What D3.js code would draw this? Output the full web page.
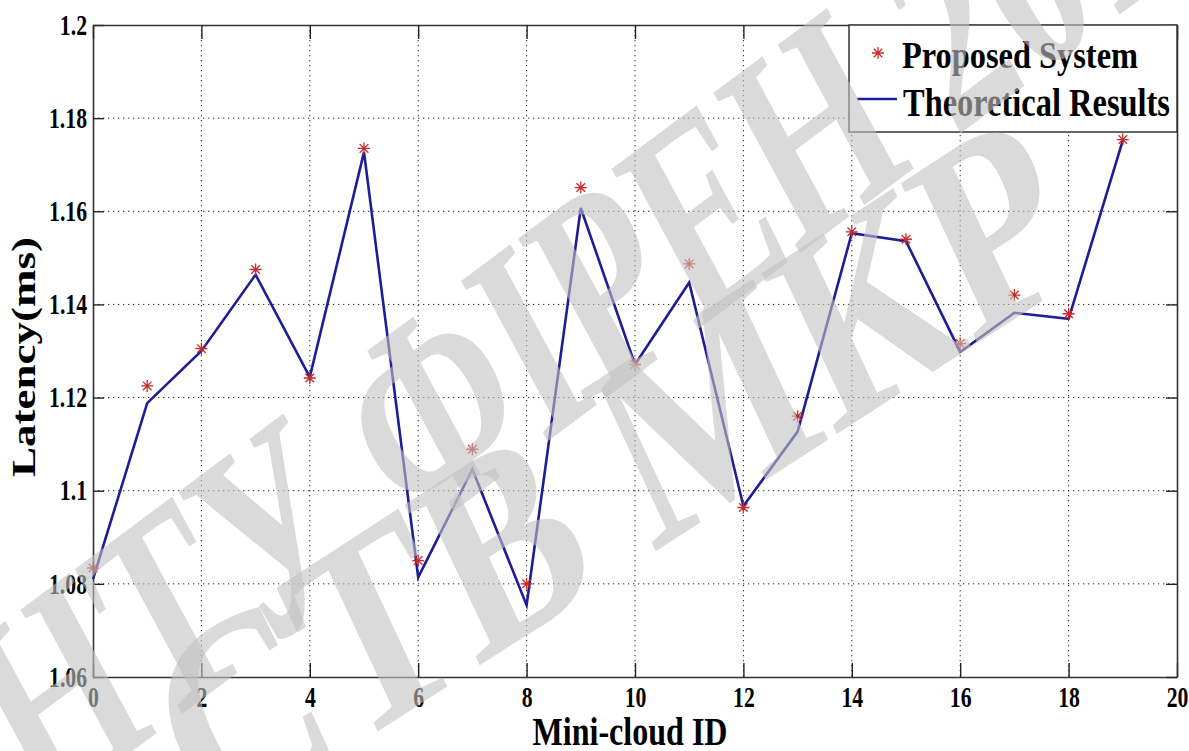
<!DOCTYPE html>
<html>
<head>
<meta charset="utf-8">
<script src="https://cdn.jsdelivr.net/npm/d3@7"></script>
<style>
  html, body { margin: 0; padding: 0; background: #fff; }
  svg { display: block; }
  text { font-family: "Liberation Serif", "Times New Roman", serif; font-weight: bold; }
  .tick text { transform-box: fill-box; transform-origin: 50% 50%; transform: scaleX(0.75); }
  .yax .tick text { transform-origin: 100% 50%; }
</style>
</head>
<body>
<div id="chart"></div>
<script>
// mini-cloud ids and latency values (ms)
const ids = [0, 1, 2, 3, 4, 5, 6, 7, 8, 9, 10, 11, 12, 13, 14, 15, 16, 17, 18, 19];
const proposed = [1.0834, 1.1225, 1.1305, 1.1475, 1.1242, 1.1735, 1.0850, 1.1089, 1.0800, 1.1651,
                  1.1271, 1.1487, 1.0964, 1.1160, 1.1556, 1.1540, 1.1316, 1.1420, 1.1380, 1.1754];
const theoretical = [1.0810, 1.1188, 1.1300, 1.1464, 1.1244, 1.1727, 1.0814, 1.1046, 1.0754, 1.1607,
                     1.1271, 1.1447, 1.0967, 1.1127, 1.1553, 1.1536, 1.1298, 1.1382, 1.1369, 1.1752];
const xTicks = [0, 2, 4, 6, 8, 10, 12, 14, 16, 18, 20];
const yTicks = [1.06, 1.08, 1.1, 1.12, 1.14, 1.16, 1.18, 1.2];
const seriesNames = ["Proposed System", "Theoretical Results"];

const W = 1189, H = 751;
const margin = {top: 25, right: 12, bottom: 74, left: 93};
const width = W - margin.left - margin.right;
const height = H - margin.top - margin.bottom;

const svg = d3.select("#chart").append("svg")
  .attr("width", W)
  .attr("height", H);

const g = svg.append("g")
  .attr("transform", "translate(" + margin.left + "," + margin.top + ")");

const x = d3.scaleLinear().domain([0, 20]).range([0, width]);
const y = d3.scaleLinear().domain([1.06, 1.2]).range([height, 0]);

// dotted grid
g.append("g")
  .selectAll("line")
  .data(xTicks.slice(1, -1))
  .enter().append("line")
    .attr("x1", d => x(d)).attr("x2", d => x(d))
    .attr("y1", 0).attr("y2", height)
    .attr("stroke", "#222").attr("stroke-width", 1)
    .attr("stroke-dasharray", "1.3,3.7");

g.append("g")
  .selectAll("line")
  .data(yTicks.slice(1, -1))
  .enter().append("line")
    .attr("x1", 0).attr("x2", width)
    .attr("y1", d => y(d)).attr("y2", d => y(d))
    .attr("stroke", "#222").attr("stroke-width", 1)
    .attr("stroke-dasharray", "1.3,3.7");

// theoretical curve
const line = d3.line()
  .x((d, i) => x(ids[i]))
  .y(d => y(d));

g.append("path")
  .datum(theoretical)
  .attr("fill", "none")
  .attr("stroke", "#1d1d96")
  .attr("stroke-width", 2.6)
  .attr("stroke-linejoin", "miter")
  .attr("d", line);

// asterisk markers
const star = "M-6,0H6M0,-6V6M-4.3,-4.3L4.3,4.3M-4.3,4.3L4.3,-4.3";
g.append("g")
  .selectAll("path")
  .data(proposed)
  .enter().append("path")
    .attr("transform", (d, i) => "translate(" + x(ids[i]) + "," + y(d) + ")")
    .attr("d", star)
    .attr("fill", "none")
    .attr("stroke", "#cc2a2a")
    .attr("stroke-width", 1.3);

// axes and box
const fmt = d => String(+d.toFixed(2));

g.append("g")
  .attr("transform", "translate(0," + height + ")")
  .call(d3.axisBottom(x).tickValues(xTicks).tickFormat(fmt).tickSizeInner(-14).tickSizeOuter(0).tickPadding(9));

g.append("g")
  .attr("class", "yax")
  .call(d3.axisLeft(y).tickValues(yTicks).tickFormat(fmt).tickSizeInner(-11).tickSizeOuter(0).tickPadding(6));

g.append("g")
  .call(d3.axisTop(x).tickValues(xTicks).tickFormat("").tickSizeInner(-14).tickSizeOuter(0));

g.append("g")
  .attr("transform", "translate(" + width + ",0)")
  .call(d3.axisRight(y).tickValues(yTicks).tickFormat("").tickSizeInner(-11).tickSizeOuter(0));

g.selectAll(".domain").attr("stroke", "#333").attr("stroke-width", 1.6);
g.selectAll(".tick line").attr("stroke", "#222").attr("stroke-width", 1.4);
g.selectAll(".tick text").attr("font-size", 29).style("fill", "#000");

// axis titles
svg.append("text")
  .attr("x", 630).attr("y", 745)
  .attr("text-anchor", "middle")
  .attr("font-size", 39)
  .attr("textLength", 195).attr("lengthAdjust", "spacingAndGlyphs")
  .style("fill", "#000")
  .text("Mini-cloud ID");

svg.append("text")
  .attr("transform", "translate(35,357) rotate(-90)")
  .attr("text-anchor", "middle")
  .attr("font-size", 33)
  .attr("textLength", 240).attr("lengthAdjust", "spacingAndGlyphs")
  .style("fill", "#000")
  .text("Latency(ms)");

// legend
const lg = svg.append("g");
lg.append("rect")
  .attr("x", 849).attr("y", margin.top)
  .attr("width", margin.left + width - 849).attr("height", 107)
  .attr("fill", "#fff").attr("stroke", "#333").attr("stroke-width", 1.5);

lg.append("path")
  .attr("transform", "translate(878,53)")
  .attr("d", star)
  .attr("fill", "none").attr("stroke", "#cc2a2a").attr("stroke-width", 1.3);

lg.append("line")
  .attr("x1", 857).attr("x2", 897).attr("y1", 99).attr("y2", 99)
  .attr("stroke", "#1d1d96").attr("stroke-width", 2.6);

lg.append("text")
  .attr("x", 902).attr("y", 68)
  .attr("font-size", 38)
  .attr("textLength", 236).attr("lengthAdjust", "spacingAndGlyphs")
  .style("fill", "#000")
  .text(seriesNames[0]);

lg.append("text")
  .attr("x", 903).attr("y", 116)
  .attr("font-size", 41)
  .attr("textLength", 267).attr("lengthAdjust", "spacingAndGlyphs")
  .style("fill", "#000")
  .text(seriesNames[1]);

// watermark overlay
function mark(txt, x0, y0, x1, y1, size) {
  const sx = 0.85;
  const dx = (x1 - x0) / sx, dy = y1 - y0;
  const ang = Math.atan2(dy, dx) * 180 / Math.PI;
  const len = Math.hypot(dx, dy);
  svg.append("text")
    .attr("transform", "translate(" + x0 + "," + y0 + ") scale(" + sx + ",1) rotate(" + ang + ")")
    .attr("font-size", size)
    .attr("textLength", len).attr("lengthAdjust", "spacingAndGlyphs")
    .style("fill", "#c2c2c2")
    .style("opacity", 0.6)
    .text(txt);
}
mark("НТУ ФІРЕН 2017", 40, 820, 1260, -90, 290);
mark("СТВ МКР", 210, 840, 1090, 270, 280);
</script>
</body>
</html>
